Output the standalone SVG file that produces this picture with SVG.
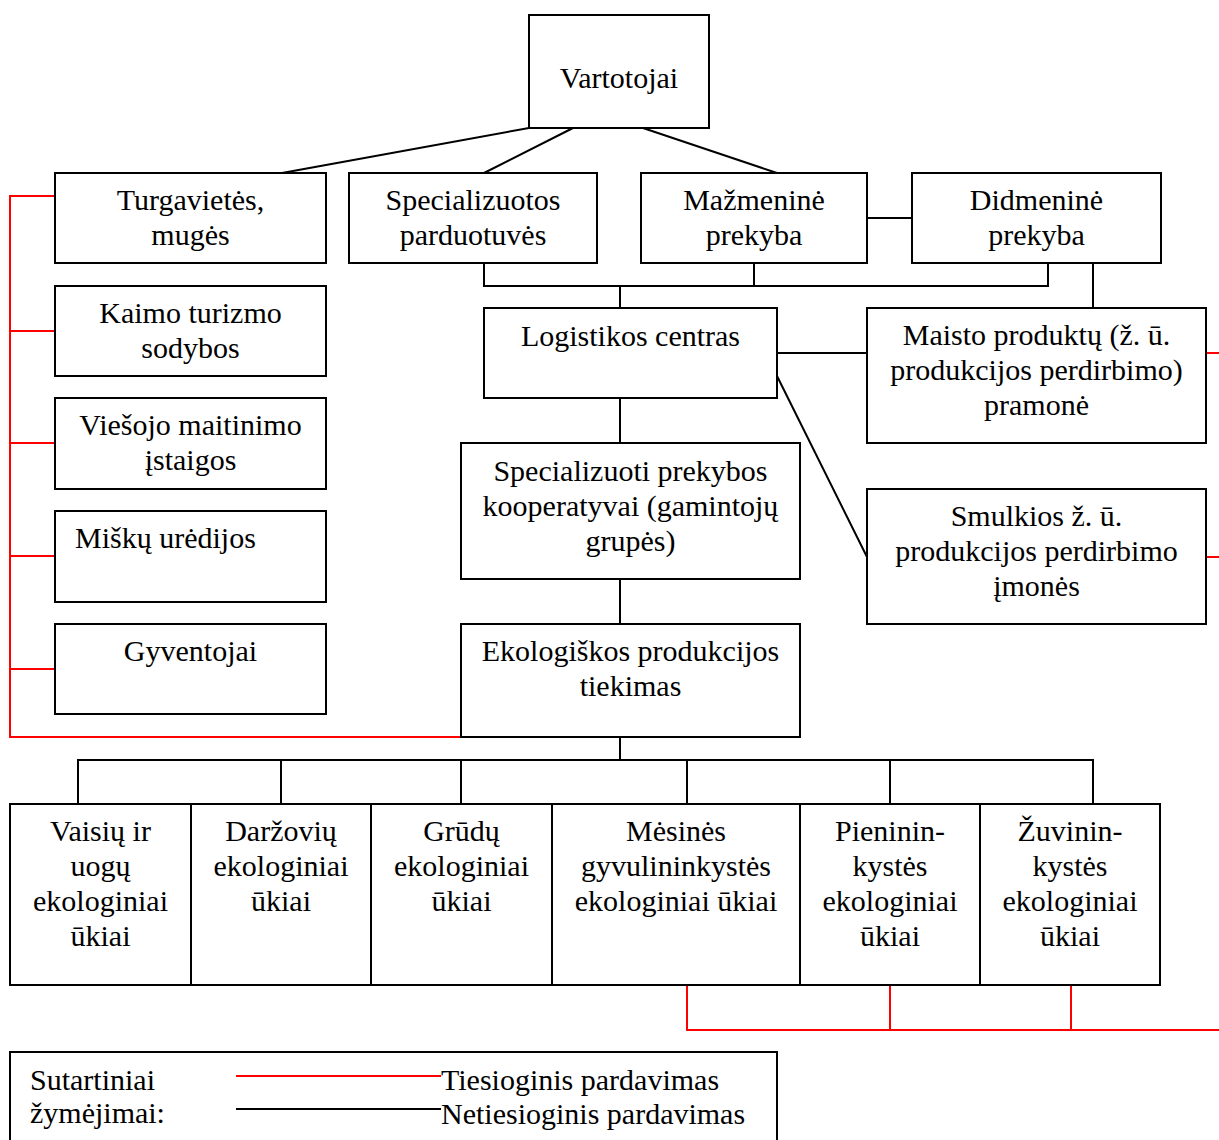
<svg xmlns="http://www.w3.org/2000/svg" width="1219" height="1140" viewBox="0 0 1219 1140">
<style>
.box{fill:#fff;stroke:#000;stroke-width:2}
.t{font-family:"Liberation Serif","Times New Roman",serif;font-size:30px;fill:#000;text-anchor:middle}
.l{font-family:"Liberation Serif","Times New Roman",serif;font-size:30px;fill:#000}
.k{fill:none;stroke:#000;stroke-width:2}
.r{fill:none;stroke:#f00;stroke-width:2}
</style>
<rect width="1219" height="1140" fill="#fff"/>
<g id="connectors">
<path class="k" d="M529,128 L282,173 M573,128 L484,173 M643,128 L777,173 M867,218 H912 M484,263 V286 H1048 V263 M754,263 V286 M620,286 V308 M1093,263 V308 M777,353 H867 M777,376 L867,557 M620,398 V443 M620,579 V624 M620,737 V760 M78,804 V760 H1093 V804 M281,760 V804 M461,760 V804 M687,760 V804 M890,760 V804"/>
<path class="r" d="M55,196 H10 V737 H461 M10,331 H55 M10,443 H55 M10,556 H55 M10,669 H55 M1206,353 H1219 M1206,557 H1219 M687,985 V1030 H1219 M890,985 V1030 M1071,985 V1030"/>
</g>
<g id="vartotojai"><rect class="box" x="529" y="15" width="180" height="113"/><text class="t" x="619" y="88">Vartotojai</text></g>
<g id="turgavietes"><rect class="box" x="55" y="173" width="271" height="90"/><text class="t" x="190.5" y="210">Turgavietės,</text><text class="t" x="190.5" y="245">mugės</text></g>
<g id="specializuotos"><rect class="box" x="349" y="173" width="248" height="90"/><text class="t" x="473" y="210">Specializuotos</text><text class="t" x="473" y="245">parduotuvės</text></g>
<g id="mazmenine"><rect class="box" x="641" y="173" width="226" height="90"/><text class="t" x="754" y="210">Mažmeninė</text><text class="t" x="754" y="245">prekyba</text></g>
<g id="didmenine"><rect class="box" x="912" y="173" width="249" height="90"/><text class="t" x="1036.5" y="210">Didmeninė</text><text class="t" x="1036.5" y="245">prekyba</text></g>
<g id="kaimo"><rect class="box" x="55" y="286" width="271" height="90"/><text class="t" x="190.5" y="323">Kaimo turizmo</text><text class="t" x="190.5" y="358">sodybos</text></g>
<g id="viesojo"><rect class="box" x="55" y="398" width="271" height="91"/><text class="t" x="190.5" y="435">Viešojo maitinimo</text><text class="t" x="190.5" y="470">įstaigos</text></g>
<g id="misku"><rect class="box" x="55" y="511" width="271" height="91"/><text class="l" x="75" y="548">Miškų urėdijos</text></g>
<g id="gyventojai"><rect class="box" x="55" y="624" width="271" height="90"/><text class="t" x="190.5" y="661">Gyventojai</text></g>
<g id="logistikos"><rect class="box" x="484" y="308" width="293" height="90"/><text class="t" x="630.5" y="346">Logistikos centras</text></g>
<g id="maisto"><rect class="box" x="867" y="308" width="339" height="135"/><text class="t" x="1036.5" y="345">Maisto produktų (ž. ū.</text><text class="t" x="1036.5" y="380">produkcijos perdirbimo)</text><text class="t" x="1036.5" y="415">pramonė</text></g>
<g id="smulkios"><rect class="box" x="867" y="489" width="339" height="135"/><text class="t" x="1036.5" y="526">Smulkios ž. ū.</text><text class="t" x="1036.5" y="561">produkcijos perdirbimo</text><text class="t" x="1036.5" y="596">įmonės</text></g>
<g id="kooperatyvai"><rect class="box" x="461" y="443" width="339" height="136"/><text class="t" x="630.5" y="481">Specializuoti prekybos</text><text class="t" x="630.5" y="516">kooperatyvai (gamintojų</text><text class="t" x="630.5" y="551">grupės)</text></g>
<g id="tiekimas"><rect class="box" x="461" y="624" width="339" height="113"/><text class="t" x="630.5" y="661">Ekologiškos produkcijos</text><text class="t" x="630.5" y="696">tiekimas</text></g>
<g id="vaisiu"><rect class="box" x="10" y="804" width="181" height="181"/><text class="t" x="100.5" y="841">Vaisių ir</text><text class="t" x="100.5" y="876">uogų</text><text class="t" x="100.5" y="911">ekologiniai</text><text class="t" x="100.5" y="946">ūkiai</text></g>
<g id="darzoviu"><rect class="box" x="191" y="804" width="180" height="181"/><text class="t" x="281" y="841">Daržovių</text><text class="t" x="281" y="876">ekologiniai</text><text class="t" x="281" y="911">ūkiai</text></g>
<g id="grudu"><rect class="box" x="371" y="804" width="181" height="181"/><text class="t" x="461.5" y="841">Grūdų</text><text class="t" x="461.5" y="876">ekologiniai</text><text class="t" x="461.5" y="911">ūkiai</text></g>
<g id="mesines"><rect class="box" x="552" y="804" width="248" height="181"/><text class="t" x="676" y="841">Mėsinės</text><text class="t" x="676" y="876">gyvulininkystės</text><text class="t" x="676" y="911">ekologiniai ūkiai</text></g>
<g id="pienininkystes"><rect class="box" x="800" y="804" width="180" height="181"/><text class="t" x="890" y="841">Pieninin-</text><text class="t" x="890" y="876">kystės</text><text class="t" x="890" y="911">ekologiniai</text><text class="t" x="890" y="946">ūkiai</text></g>
<g id="zuvininkystes"><rect class="box" x="980" y="804" width="180" height="181"/><text class="t" x="1070" y="841">Žuvinin-</text><text class="t" x="1070" y="876">kystės</text><text class="t" x="1070" y="911">ekologiniai</text><text class="t" x="1070" y="946">ūkiai</text></g>
<g id="legend">
<rect class="box" x="10" y="1052" width="767" height="100"/>
<text class="l" x="30" y="1090">Sutartiniai</text>
<text class="l" x="30" y="1123">žymėjimai:</text>
<line class="r" x1="236" y1="1076" x2="441" y2="1076"/>
<line class="k" x1="236" y1="1109" x2="441" y2="1109"/>
<text class="l" x="441" y="1090">Tiesioginis pardavimas</text>
<text class="l" x="441" y="1124">Netiesioginis pardavimas</text>
</g>
</svg>
